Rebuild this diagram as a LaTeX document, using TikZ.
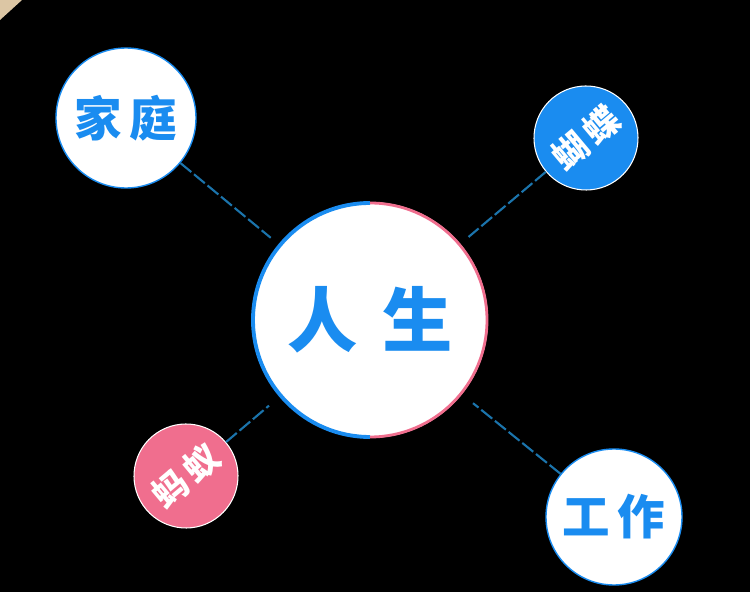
\documentclass[tikz,border=0pt]{standalone}
\usepackage{xcolor}
\usepackage{tikz}
\usepackage{fontspec}
\newfontfamily\cjk{Noto Sans CJK SC}
\definecolor{skyblue}{HTML}{1A8CF0}
\definecolor{rosepink}{HTML}{F06E8E}
\definecolor{dashblue}{HTML}{1B74AC}
\definecolor{paper}{HTML}{DCC6A4}
\usetikzlibrary{arrows.meta, positioning, calc}

\begin{document}
\begin{tikzpicture}[
    every node/.style={font=\cjk\bfseries},
    hub/.style={circle, fill=white, minimum size=4.72cm, inner sep=0pt,
                text=skyblue, font=\cjk\bfseries\fontsize{40}{40}\selectfont},
    leafwhite/.style={circle, fill=white, draw=skyblue, line width=0.8pt,
                inner sep=0pt, text=skyblue,
                font=\cjk\bfseries\fontsize{27}{27}\selectfont},
    leafcolor/.style={circle, draw=white, line width=0.6pt, inner sep=0pt,
                minimum size=2.08cm, text=white, rotate=40,
                font=\cjk\bfseries\fontsize{20}{20}\selectfont},
    link/.style={dashblue, line width=1.2pt, dash pattern=on 8pt off 2pt},
]
% background and the scrap of paper in the corner
\useasboundingbox (0,0) rectangle (15,-11.84);
\fill[black] (0,0) rectangle (15,-11.84);
\fill[paper] (0,0) -- (0.44,0) -- (0,-0.40) -- cycle;

% the centre
\node[hub] (rensheng) at (7.40,-6.40) {人\hspace{0.35em}生};
\draw[skyblue, line width=2.2pt] ($(rensheng.center)+(90:2.34)$)
    arc[start angle=90, end angle=270, radius=2.34];
\draw[rosepink, line width=1.6pt] ($(rensheng.center)+(-90:2.34)$)
    arc[start angle=-90, end angle=90, radius=2.34];

% the four around it
\node[leafwhite, minimum size=2.80cm] (jiating) at (2.52,-2.36) {家\hspace{0.15em}庭};
\node[leafwhite, minimum size=2.72cm] (gongzuo) at (12.28,-10.34) {工\hspace{0.15em}作};
\node[leafcolor, fill=skyblue] (hudie) at (11.72,-2.76) {蝴\hspace{0.15em}蝶};
\node[leafcolor, fill=rosepink] (mayi) at (3.72,-9.52) {蚂\hspace{0.15em}蚁};

% dashed links
\draw[link, shorten >=6pt] (jiating) -- (rensheng);
\draw[link, shorten >=6pt] (hudie) -- (rensheng);
\draw[link, shorten >=8pt] (mayi) -- (rensheng);
\draw[link, shorten >=8pt] (gongzuo) -- (rensheng);

\end{tikzpicture}
\end{document}
